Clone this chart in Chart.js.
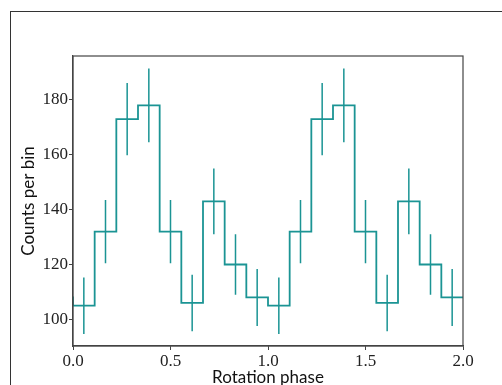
<!DOCTYPE html>
<html>
<head>
<meta charset="utf-8">
<script src="https://cdn.jsdelivr.net/npm/chart.js@4"></script>
<style>
  html, body { margin: 0; padding: 0; background: #fff; }
  #wrap { position: relative; width: 502px; height: 385px; overflow: hidden; }
  #frame { position: absolute; left: 10px; top: 11px; width: 600px; height: 500px;
           border-left: 1.5px solid #333; border-top: 1.5px solid #333; }
  canvas { position: absolute; left: 0; top: 0; }
</style>
</head>
<body>
<div id="wrap">
  <div id="frame"></div>
  <canvas id="phasechart" width="502" height="385"></canvas>
</div>
<script>
// phase bins (width 1/9), two rotations shown
const binWidth = 1 / 9;
const counts = [105, 132, 173, 178, 132, 106, 143, 120, 108,
                105, 132, 173, 178, 132, 106, 143, 120, 108];
const errors = [10.3, 11.5, 13.2, 13.4, 11.5, 10.3, 12.0, 11.0, 10.4,
                10.3, 11.5, 13.2, 13.4, 11.5, 10.3, 12.0, 11.0, 10.4];
const xTicks = [0.0, 0.5, 1.0, 1.5, 2.0];
const yTicks = [100, 120, 140, 160, 180];

const teal = '#1b9494';

// step outline: one point per bin edge, horizontal first then vertical
const stepData = [{ x: -binWidth, y: counts[counts.length - 1] }];
counts.forEach((c, i) => stepData.push({ x: i * binWidth, y: c }));
stepData.push({ x: counts.length * binWidth, y: counts[counts.length - 1] });

// error bars at bin centres, separated by gaps
const errData = [];
counts.forEach((c, i) => {
    const xc = (i + 0.5) * binWidth;
    errData.push({ x: xc, y: c - errors[i] });
    errData.push({ x: xc, y: c + errors[i] });
    errData.push({ x: xc, y: null });
});

const boxFrame = {
    id: 'boxFrame',
    afterDatasetsDraw(chart) {
        const a = chart.chartArea;
        const ctx = chart.ctx;
        ctx.save();
        ctx.strokeStyle = '#444';
        ctx.lineWidth = 1.2;
        ctx.strokeRect(a.left, a.top, a.right - a.left, a.bottom - a.top);
        ctx.restore();
    }
};

const ctx = document.getElementById('phasechart').getContext('2d');
const myChart = new Chart(ctx, {
    type: 'line',
    data: {
        datasets: [{
            data: stepData,
            stepped: true,
            borderColor: teal,
            borderWidth: 1.8,
            pointRadius: 0,
            fill: false
        }, {
            data: errData,
            borderColor: teal,
            borderWidth: 1.5,
            pointRadius: 0,
            spanGaps: false,
            fill: false
        }]
    },
    options: {
        responsive: false,
        animation: false,
        layout: { padding: { top: 56, right: 39, left: 0, bottom: 0 } },
        plugins: { legend: { display: false }, tooltip: { enabled: false } },
        scales: {
            x: {
                type: 'linear',
                min: 0, max: 2,
                afterFit(scale) { scale.height = 39; },
                afterBuildTicks(scale) { scale.ticks = xTicks.map(v => ({ value: v })); },
                grid: { drawOnChartArea: false, tickLength: 4, color: '#444' },
                border: { color: '#444', width: 1.2 },
                ticks: {
                    color: '#222', padding: 1,
                    font: { family: 'Liberation Serif', size: 17 },
                    callback: v => v.toFixed(1)
                },
                title: {
                    display: true, text: 'Rotation phase', color: '#111',
                    font: { family: 'Lato', size: 17 },
                    padding: { top: 0, bottom: -3 }
                }
            },
            y: {
                min: 90.3, max: 196,
                afterFit(scale) { scale.width = 73; },
                afterBuildTicks(scale) { scale.ticks = yTicks.map(v => ({ value: v })); },
                grid: { drawOnChartArea: false, tickLength: 4, color: '#444' },
                border: { color: '#444', width: 1.2 },
                ticks: {
                    color: '#222', padding: 1,
                    font: { family: 'Liberation Serif', size: 17 }
                },
                title: {
                    display: true, text: 'Counts per bin', color: '#111',
                    font: { family: 'Lato', size: 17 },
                    padding: { top: 18, bottom: 0 }
                }
            }
        }
    },
    plugins: [boxFrame]
});
</script>
</body>
</html>
